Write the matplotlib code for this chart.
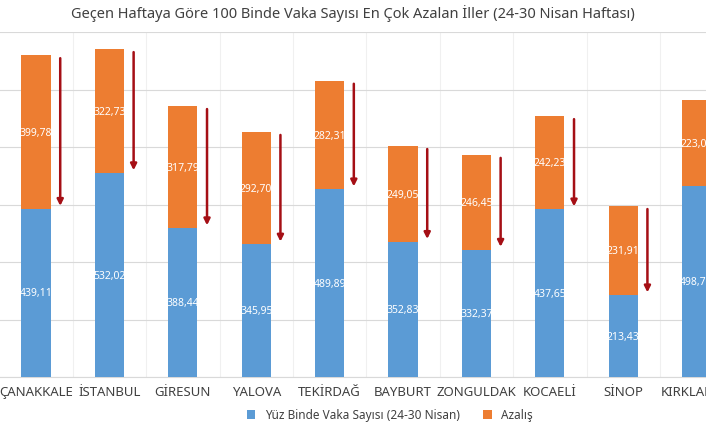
import matplotlib
matplotlib.use("Agg")
import matplotlib.pyplot as plt
import numpy as np

plt.rcParams['font.family'] = ['Noto Sans', 'DejaVu Sans']

cities = ["ÇANAKKALE", "İSTANBUL", "GİRESUN", "YALOVA", "TEKİRDAĞ", "BAYBURT",
          "ZONGULDAK", "KOCAELİ", "SİNOP", "KIRKLARELİ"]
cases = [439.11, 532.02, 388.44, 345.95, 489.89, 352.83, 332.37, 437.65, 213.43, 498.71]
drop = [399.78, 322.73, 317.79, 292.70, 282.31, 249.05, 246.45, 242.23, 231.91, 223.05]

blue = "#5b9bd5"
orange = "#ed7d31"

fig = plt.figure(figsize=(7.06, 4.31), dpi=100)
ax = fig.add_axes([0, 1 - 378/431, 1, (378-33)/431])
x = np.arange(len(cities))
w = 0.4
ax.bar(x, cases, w, color=blue, label="Yüz Binde Vaka Sayısı (24-30 Nisan)", zorder=3)
ax.bar(x, drop, w, bottom=cases, color=orange, label="Azalış", zorder=3)

fmt = lambda v: f"{v:.2f}".replace(".", ",")
for xi, c, d in zip(x, cases, drop):
    ax.text(xi, c/2, fmt(c), ha="center", va="center", color="white", fontsize=7.5, zorder=4)
    ax.text(xi, c + d/2, fmt(d), ha="center", va="center", color="white", fontsize=7.5, zorder=4)
    ax.annotate("", xy=(xi + 0.33, c), xytext=(xi + 0.33, c + d),
                arrowprops=dict(arrowstyle="-|>", color="#a50f15", lw=1.8, mutation_scale=9),
                zorder=5)

ax.set_yticks(np.arange(0, 901, 150))
ax.set_yticklabels([])
ax.tick_params(axis="y", length=0)
ax.set_xticks(x)
ax.set_xticklabels(cities, color="#404040", fontsize=9.5)
ax.tick_params(axis="x", length=0, pad=6)
ax.set_xticks(x + 0.5, minor=True)
ax.tick_params(axis="x", which="minor", length=0)
ax.grid(axis="y", color="#d9d9d9", lw=0.8, zorder=0)
ax.grid(axis="x", which="minor", color="#f0f0f0", lw=0.8, zorder=0)
for s in ["top", "right", "left"]:
    ax.spines[s].set_visible(False)
ax.spines["bottom"].set_color("#d9d9d9")
ax.set_xlim(-36/73.4, (706-36)/73.4)
ax.set_ylim(0, 900)

fig.text(0.5, 1 - 14/431, "Geçen Haftaya Göre 100 Binde Vaka Sayısı En Çok Azalan İller (24-30 Nisan Haftası)",
         ha="center", va="center", fontsize=10.5, color="#404040")
fig.legend(loc="center", bbox_to_anchor=(390/706, 1 - 416/431), ncol=2, frameon=False,
           fontsize=8.5, handlelength=0.7, handleheight=0.7, columnspacing=2, labelcolor="#404040")
fig.savefig("out.png", dpi=100)
